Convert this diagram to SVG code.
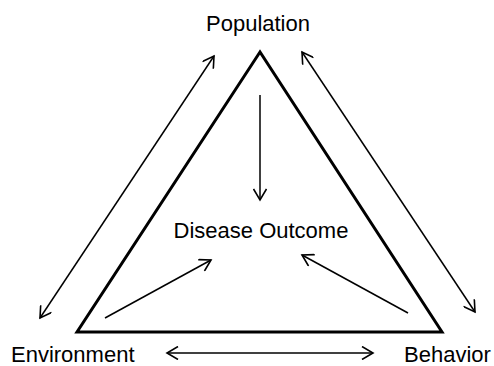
<svg xmlns="http://www.w3.org/2000/svg" width="494" height="366" viewBox="0 0 494 366">
<style>
text{font-family:"Liberation Sans",Arial,sans-serif;font-size:22px;fill:#000}
.c{fill:none;stroke:#000;stroke-width:1.5;marker-end:url(#ah)}
.d{marker-start:url(#ah)}
</style>
<defs>
<marker id="ah" viewBox="-12 -7 14 14" markerWidth="14" markerHeight="14" refX="0" refY="0" markerUnits="userSpaceOnUse" orient="auto-start-reverse">
<path d="M-11,-6.5 L0,0 L-11,6.5" fill="none" stroke="#000" stroke-width="1.6"/>
</marker>
</defs>
<rect width="494" height="366" fill="#fff"/>
<g id="triangle"><polygon points="260,52 77,332 442,332" fill="none" stroke="#000" stroke-width="3" stroke-linejoin="miter"/></g>
<g id="population"><text x="258" y="31" text-anchor="middle">Population</text></g>
<g id="environment"><text x="11" y="362">Environment</text></g>
<g id="behavior"><text x="404" y="362">Behavior</text></g>
<g id="disease-outcome"><text x="261" y="238" text-anchor="middle">Disease Outcome</text></g>
<g id="connectors">
<line class="c" x1="260" y1="95" x2="260" y2="200"/>
<line class="c" x1="105" y1="318" x2="211" y2="260"/>
<line class="c" x1="408" y1="313" x2="302" y2="255"/>
<line class="c d" x1="40" y1="318" x2="214" y2="56"/>
<line class="c d" x1="475" y1="312" x2="302" y2="52"/>
<line class="c d" x1="167" y1="353" x2="373" y2="353"/>
</g>
</svg>
